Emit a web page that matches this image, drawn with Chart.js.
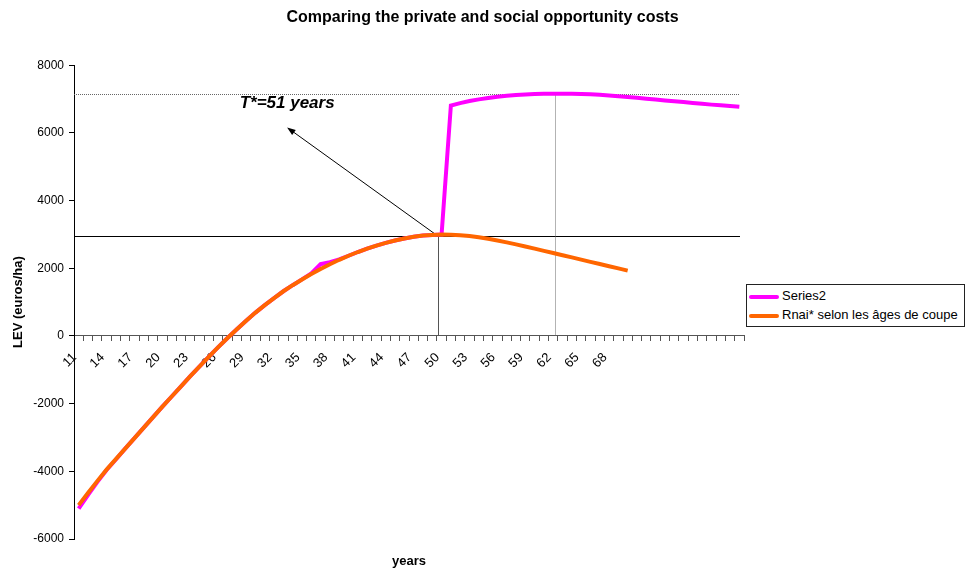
<!DOCTYPE html>
<html>
<head>
<meta charset="utf-8">
<title>Comparing the private and social opportunity costs</title>
<script src="https://cdn.jsdelivr.net/npm/chart.js@4.4.1/dist/chart.umd.min.js"></script>
<style>
  body { margin: 0; background: #fff; }
  #wrap { position: relative; width: 965px; height: 572px; }
  #legend {
    position: absolute; left: 746px; top: 284px; width: 217px; height: 41px;
    border: 1px solid #222; background: #fff;
    font: 13px "Liberation Sans", Arial, sans-serif; color: #000;
  }
  #legend .row { position: absolute; left: 2px; height: 16px; line-height: 16px; white-space: nowrap; }
  #legend .swatch { display: inline-block; width: 30px; height: 4px; vertical-align: middle; margin-right: 3px; border-radius: 2px; }
</style>
</head>
<body>
<div id="wrap">
  <canvas id="chart-lev" width="965" height="572"></canvas>
  <div id="legend">
    <div class="row" style="top:3px"><span class="swatch" style="background:#FF00FF"></span>Series2</div>
    <div class="row" style="top:22px"><span class="swatch" style="background:#FF6600"></span>Rnai* selon les âges de coupe</div>
  </div>
</div>
<script>
/* LEV by cutting age, private vs social opportunity cost */

const years = [11, 12, 13, 14, 15, 16, 17, 18, 19, 20, 21, 22, 23, 24, 25, 26, 27, 28, 29, 30,
  31, 32, 33, 34, 35, 36, 37, 38, 39, 40, 41, 42, 43, 44, 45, 46, 47, 48, 49, 50,
  51, 52, 53, 54, 55, 56, 57, 58, 59, 60, 61, 62, 63, 64, 65, 66, 67, 68, 69, 70,
  '', '', '', '', '', '', '', '', '', '', '', ''];

const series2 = [-5100, -4700, -4320, -3960, -3650, -3330, -3020, -2710, -2400, -2090,
  -1790, -1490, -1190, -900, -610, -330, -60, 200, 450, 690,
  910, 1120, 1320, 1500, 1670, 1850, 2120, 2180, 2260, 2370,
  2480, 2580, 2670, 2750, 2820, 2880, 2930, 2965, 2985, 2995,
  6810, 6880, 6940, 6990, 7030, 7065, 7095, 7120, 7135, 7147,
  7155, 7158, 7158, 7155, 7148, 7138, 7125, 7105, 7080, 7058,
  7035, 7010, 6985, 6960, 6935, 6910, 6885, 6860, 6835, 6815,
  6795, 6770];

const rnai = [-5000, -4640, -4290, -3950, -3640, -3330, -3020, -2710, -2400, -2090,
  -1790, -1490, -1190, -900, -610, -330, -60, 200, 450, 690,
  910, 1120, 1320, 1500, 1670, 1830, 1980, 2120, 2250, 2370,
  2480, 2580, 2670, 2750, 2820, 2880, 2930, 2965, 2985, 2995,
  2990, 2975, 2950, 2915, 2870, 2820, 2765, 2705, 2645, 2580,
  2515, 2450, 2385, 2320, 2255, 2190, 2125, 2060, 1995, 1930];

const yTicks = [-6000, -4000, -2000, 0, 2000, 4000, 6000, 8000];

// reference marks, in axis units (category position / LEV)
const T_STAR_POS = 38.65;
const T_STAR_LEV = 2943;
const PEAK_POS = 51.2;
const PEAK_LEV = 7163;
const ARROW_TIP = { x: 22.4, y: 6160 };
const NOTE_AT = { x: 17.3, y: 6870 };
const NOTE_TEXT = 'T*=51 years';

const FONT = '"Liberation Sans", Arial, sans-serif';

// guide lines, arrow and note drawn under the curves
const refLinesPlugin = {
  id: 'refLines',
  beforeDatasetsDraw(chart) {
    const { ctx, chartArea: area, scales: { x, y } } = chart;
    const xT = Math.round(x.getPixelForValue(T_STAR_POS)) + 0.5;
    const yT = Math.round(y.getPixelForValue(T_STAR_LEV)) + 0.5;
    const xP = Math.round(x.getPixelForValue(PEAK_POS)) + 0.5;
    const yP = Math.round(y.getPixelForValue(PEAK_LEV)) + 0.5;
    const y0 = y.getPixelForValue(0);

    ctx.save();
    ctx.lineWidth = 1;

    // solid lines at T*
    ctx.strokeStyle = '#000';
    ctx.beginPath();
    ctx.moveTo(area.left, yT);
    ctx.lineTo(area.right - 4, yT);
    ctx.stroke();
    ctx.strokeStyle = '#555';
    ctx.beginPath();
    ctx.moveTo(xT, y0);
    ctx.lineTo(xT, yT);
    ctx.stroke();

    // dotted lines at the social optimum
    ctx.strokeStyle = '#666';
    ctx.setLineDash([1, 1]);
    ctx.beginPath();
    ctx.moveTo(area.left, yP);
    ctx.lineTo(area.right - 4, yP);
    ctx.moveTo(xP, yP);
    ctx.lineTo(xP, y0);
    ctx.stroke();
    ctx.setLineDash([]);

    // arrow from T* to the note
    const tx = x.getPixelForValue(ARROW_TIP.x);
    const ty = y.getPixelForValue(ARROW_TIP.y);
    const ang = Math.atan2(ty - yT, tx - xT);
    ctx.strokeStyle = '#000';
    ctx.fillStyle = '#000';
    ctx.beginPath();
    ctx.moveTo(xT, yT);
    ctx.lineTo(tx - Math.cos(ang) * 6, ty - Math.sin(ang) * 6);
    ctx.stroke();
    ctx.beginPath();
    ctx.moveTo(tx, ty);
    ctx.lineTo(tx - 9 * Math.cos(ang - 0.35), ty - 9 * Math.sin(ang - 0.35));
    ctx.lineTo(tx - 9 * Math.cos(ang + 0.35), ty - 9 * Math.sin(ang + 0.35));
    ctx.closePath();
    ctx.fill();

    ctx.font = 'italic bold 17px ' + FONT;
    ctx.textBaseline = 'middle';
    ctx.textAlign = 'left';
    ctx.fillText(NOTE_TEXT, x.getPixelForValue(NOTE_AT.x), y.getPixelForValue(NOTE_AT.y));
    ctx.restore();
  }
};

Chart.defaults.font.family = FONT;
Chart.defaults.color = '#000';

new Chart(document.getElementById('chart-lev'), {
  type: 'line',
  data: {
    labels: years,
    datasets: [
      {
        label: 'Series2',
        data: series2,
        xAxisID: 'x',
        yAxisID: 'y',
        borderColor: '#FF00FF',
        borderWidth: 4,
        pointRadius: 0,
        tension: 0,
        order: 1
      },
      {
        label: 'Rnai* selon les âges de coupe',
        data: rnai,
        xAxisID: 'x',
        yAxisID: 'y',
        borderColor: '#FF6600',
        borderWidth: 4,
        pointRadius: 0,
        tension: 0,
        order: 0
      }
    ]
  },
  options: {
    responsive: false,
    animation: false,
    layout: { padding: 0 },
    plugins: {
      legend: { display: false },
      tooltip: { enabled: false },
      title: {
        display: true,
        text: 'Comparing the private and social opportunity costs',
        font: { size: 16, weight: 'bold' },
        padding: { top: 8, bottom: 38 }
      }
    },
    scales: {
      x: {
        type: 'category',
        position: { y: 0 },
        offset: true,
        grid: { offset: true, drawOnChartArea: false, tickLength: 5, color: '#555' },
        border: { color: '#555' },
        ticks: {
          autoSkip: false,
          minRotation: 45,
          maxRotation: 45,
          padding: 9,
          labelOffset: -4,
          font: { size: 13 },
          callback: (v, i) => (i % 3 === 0 ? years[i] : '')
        }
      },
      // bottom strip holding the axis title
      xTitle: {
        type: 'category',
        position: 'bottom',
        afterFit: (s) => { s.height = 33; },
        grid: { display: false },
        border: { display: false },
        ticks: { display: false },
        title: {
          display: true,
          text: 'years',
          font: { size: 13, weight: 'bold' },
          padding: { top: 0, bottom: 3 }
        }
      },
      y: {
        min: yTicks[0],
        max: yTicks[yTicks.length - 1],
        afterBuildTicks: (s) => { s.ticks = yTicks.map((v) => ({ value: v })); },
        afterFit: (s) => { s.width = 74; },
        grid: { drawOnChartArea: false, tickLength: 5, color: '#000' },
        border: { color: '#000' },
        ticks: { padding: 5, font: { size: 12 }, callback: (v) => String(v) },
        title: {
          display: true,
          text: 'LEV (euros/ha)',
          font: { size: 13, weight: 'bold' },
          padding: { top: 11, bottom: 0 }
        }
      },
      // empty strip on the right, room for the legend
      yRight: {
        position: 'right',
        afterFit: (s) => { s.width = 221; },
        grid: { display: false },
        border: { display: false },
        ticks: { display: false }
      }
    }
  },
  plugins: [refLinesPlugin]
});
</script>
</body>
</html>
